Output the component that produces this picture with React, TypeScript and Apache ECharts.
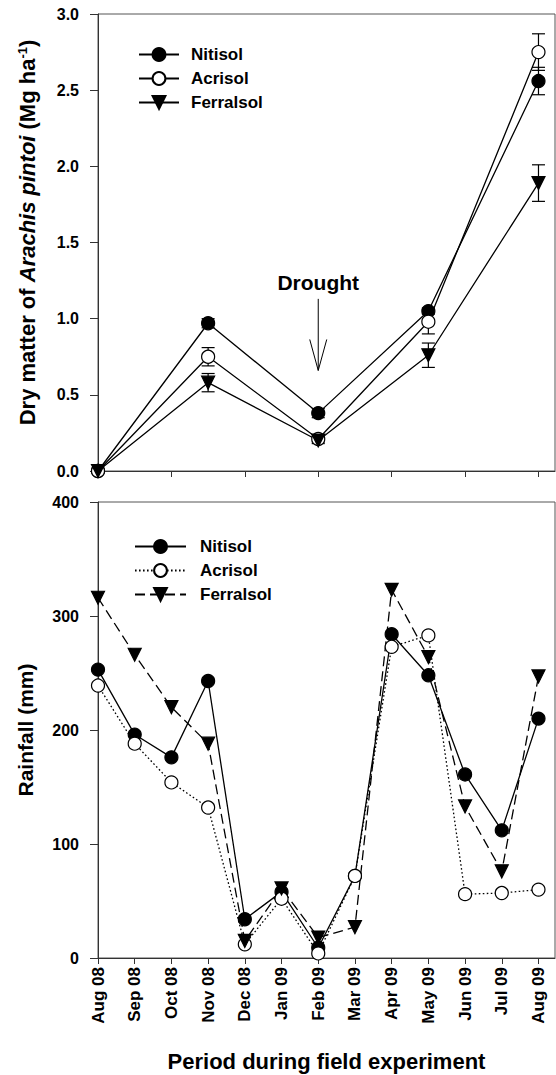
import React, { useEffect, useRef } from "react";
import * as echarts from "echarts";

const FONT = "Liberation Sans, Arial, Helvetica, sans-serif";

const soils = ["Nitisol", "Acrisol", "Ferralsol"];
const monthLabels = [
  "Aug 08", "Sep 08", "Oct 08", "Nov 08", "Dec 08", "Jan 09", "Feb 09",
  "Mar 09", "Apr 09", "May 09", "Jun 09", "Jul 09", "Aug 09",
];
const monthIndex = [0, 1, 2, 3, 4, 5, 6, 7, 8, 9, 10, 11, 12];
const topTickMonths = [0, 2, 4, 6, 8, 10, 12];

// Dry matter of Arachis pintoi (Mg ha-1), sampled at these months
const samplingMonths = [0, 3, 6, 9, 12];
const dmNitisol = [0, 0.97, 0.38, 1.05, 2.56];
const dmAcrisol = [0, 0.75, 0.21, 0.98, 2.75];
const dmFerralsol = [0, 0.58, 0.2, 0.76, 1.89];
const seNitisol = [0, 0.03, 0.03, 0.02, 0.09];
const seAcrisol = [0, 0.06, 0.02, 0.08, 0.12];
const seFerralsol = [0, 0.06, 0.02, 0.08, 0.12];

// Rainfall (mm) per month
const rainNitisol = [253, 196, 176, 243, 34, 58, 9, 72, 284, 248, 161, 112, 210];
const rainAcrisol = [239, 188, 154, 132, 12, 52, 4, 72, 273, 283, 56, 57, 60];
const rainFerralsol = [316, 266, 220, 188, 15, 61, 18, 27, 323, 264, 133, 76, 247];

// Drought annotation (month index, label value, arrow top, arrow tip)
const droughtMonth = 6;
const droughtLabelValue = 1.24;
const droughtArrowTop = 1.13;
const droughtArrowTip = 0.66;

const dmValues = [dmNitisol, dmAcrisol, dmFerralsol];
const seValues = [seNitisol, seAcrisol, seFerralsol];
const rainValues = [rainNitisol, rainAcrisol, rainFerralsol];

const symbols = ["circle", "circle", "triangle"];
const rotates = [0, 0, 180];
const fills = ["#000", "#fff", "#000"];
const rainLineTypes: any[] = ["solid", [1.6, 2.4], [10, 5]];

const AXIS_COLOR = "#333";
const FRAME_COLOR = "#555";
const X_MAX = 12.45;

export default function App() {
  const ref = useRef<HTMLDivElement>(null);

  useEffect(() => {
    if (!ref.current) return;
    const chart = echarts.init(ref.current, undefined, { renderer: "svg" });

    const axisLine = { show: true, lineStyle: { color: AXIS_COLOR, width: 1 } };
    const tickLabelY = { fontFamily: FONT, fontWeight: "bold" as const, fontSize: 16, color: "#000", margin: 19 };

    const topLines = soils.map((s, i) => ({
      name: s,
      type: "line",
      xAxisIndex: 0,
      yAxisIndex: 0,
      z: 3,
      data: samplingMonths.map((m, j) => [m, dmValues[i][j]]),
      symbol: symbols[i],
      symbolRotate: rotates[i],
      symbolSize: 13,
      lineStyle: { color: "#000", width: 1.3, type: "solid" },
      itemStyle: { color: fills[i], borderColor: "#000", borderWidth: 1.2 },
      emphasis: { disabled: true },
    }));

    const errorBars = soils.map((s, i) => ({
      name: "err-" + s,
      type: "custom",
      xAxisIndex: 0,
      yAxisIndex: 0,
      z: 2,
      data: samplingMonths.map((m, j) => [m, dmValues[i][j], seValues[i][j]]),
      renderItem: (_p: any, api: any) => {
        const x = api.value(0);
        const y = api.value(1);
        const e = api.value(2);
        if (!e) return { type: "group", children: [] };
        const hi = api.coord([x, y + e]);
        const lo = api.coord([x, y - e]);
        const w = 6.5;
        const st = { stroke: "#000", lineWidth: 1.2 };
        return {
          type: "group",
          children: [
            { type: "line", shape: { x1: hi[0], y1: hi[1], x2: lo[0], y2: lo[1] }, style: st },
            { type: "line", shape: { x1: hi[0] - w, y1: hi[1], x2: hi[0] + w, y2: hi[1] }, style: st },
            { type: "line", shape: { x1: lo[0] - w, y1: lo[1], x2: lo[0] + w, y2: lo[1] }, style: st },
          ],
        };
      },
    }));

    const drought = {
      name: "drought",
      type: "custom",
      xAxisIndex: 0,
      yAxisIndex: 0,
      z: 4,
      clip: false,
      data: [[droughtMonth, droughtLabelValue, droughtArrowTop, droughtArrowTip]],
      renderItem: (_p: any, api: any) => {
        const x = api.value(0);
        const t = api.coord([x, api.value(1)]);
        const a = api.coord([x, api.value(2)]);
        const b = api.coord([x, api.value(3)]);
        const st = { stroke: "#000", lineWidth: 1, fill: "none" };
        return {
          type: "group",
          children: [
            {
              type: "text",
              x: t[0],
              y: t[1],
              style: {
                text: "Drought",
                fontFamily: FONT,
                fontWeight: "bold",
                fontSize: 21,
                fill: "#000",
                align: "center",
                verticalAlign: "middle",
              },
            },
            { type: "line", shape: { x1: a[0], y1: a[1], x2: b[0], y2: b[1] }, style: st },
            {
              type: "polyline",
              shape: { points: [[b[0] - 8.5, b[1] - 31], [b[0], b[1]], [b[0] + 8.5, b[1] - 31]] },
              style: st,
            },
          ],
        };
      },
    };

    const bottomLines = soils.map((s, i) => ({
      name: s + " rainfall",
      type: "line",
      xAxisIndex: 1,
      yAxisIndex: 1,
      z: 3,
      data: monthIndex.map((m, j) => [m, rainValues[i][j]]),
      symbol: symbols[i],
      symbolRotate: rotates[i],
      symbolSize: 13,
      lineStyle: { color: "#000", width: 1.3, type: rainLineTypes[i] },
      itemStyle: { color: fills[i], borderColor: "#000", borderWidth: 1.2 },
      emphasis: { disabled: true },
    }));

    const legendText = {
      fontFamily: FONT,
      fontWeight: "bold" as const,
      fontSize: 17,
      color: "#000",
    };

    chart.setOption({
      animation: false,
      backgroundColor: "#fff",
      grid: [
        { left: 98, top: 14, right: 1, height: 457, show: true, borderColor: FRAME_COLOR, borderWidth: 1, backgroundColor: "transparent" },
        { left: 98, top: 502, right: 1, height: 456, show: true, borderColor: FRAME_COLOR, borderWidth: 1, backgroundColor: "transparent" },
      ],
      legend: [
        {
          data: soils,
          orient: "vertical",
          left: 138,
          top: 46,
          padding: 0,
          itemWidth: 40,
          itemHeight: 16,
          itemGap: 7,
          selectedMode: false,
          textStyle: { ...legendText, padding: [0, 0, 0, 7] },
        },
        {
          data: soils.map((s) => s + " rainfall"),
          orient: "vertical",
          left: 134,
          top: 538,
          padding: 0,
          itemWidth: 51,
          itemHeight: 16,
          itemGap: 7,
          selectedMode: false,
          formatter: (n: string) => n.replace(" rainfall", ""),
          textStyle: { ...legendText, padding: [0, 0, 0, 9] },
        },
      ],
      xAxis: [
        {
          type: "value",
          gridIndex: 0,
          min: 0,
          max: X_MAX,
          interval: 2,
          axisLine,
          axisTick: { show: true, length: 6, customValues: topTickMonths, lineStyle: { color: AXIS_COLOR } },
          axisLabel: { show: false },
          splitLine: { show: false },
        },
        {
          type: "value",
          gridIndex: 1,
          min: 0,
          max: X_MAX,
          interval: 1,
          axisLine,
          axisTick: { show: true, length: 6, customValues: monthIndex, lineStyle: { color: AXIS_COLOR } },
          axisLabel: {
            customValues: monthIndex,
            rotate: 90,
            margin: 9,
            fontFamily: FONT,
            fontWeight: "bold",
            fontSize: 17,
            color: "#000",
            formatter: (v: number) => monthLabels[Math.round(v)] ?? "",
          },
          splitLine: { show: false },
          name: "Period during field experiment",
          nameLocation: "middle",
          nameGap: 92,
          nameTextStyle: { fontFamily: FONT, fontWeight: "bold", fontSize: 22, color: "#000" },
        },
      ],
      yAxis: [
        {
          type: "value",
          gridIndex: 0,
          min: 0,
          max: 3,
          interval: 0.5,
          axisLine,
          axisTick: { show: true, length: 8, lineStyle: { color: AXIS_COLOR } },
          axisLabel: { ...tickLabelY, formatter: (v: number) => v.toFixed(1) },
          splitLine: { show: false },
          name: "Dry matter of {i|Arachis pintoi} (Mg ha{s|-1})",
          nameLocation: "middle",
          nameGap: 60,
          nameTextStyle: {
            fontFamily: FONT,
            fontWeight: "bold",
            fontSize: 22,
            color: "#000",
            padding: [0, 0, 0, 20],
            rich: {
              i: { fontFamily: FONT, fontWeight: "bold", fontStyle: "italic", fontSize: 22, color: "#000" },
              s: { fontFamily: FONT, fontWeight: "bold", fontSize: 13, color: "#000", verticalAlign: "top" },
            },
          },
        },
        {
          type: "value",
          gridIndex: 1,
          min: 0,
          max: 400,
          interval: 100,
          axisLine,
          axisTick: { show: true, length: 8, lineStyle: { color: AXIS_COLOR } },
          axisLabel: { ...tickLabelY },
          splitLine: { show: false },
          name: "Rainfall (mm)",
          nameLocation: "middle",
          nameGap: 62,
          nameTextStyle: { fontFamily: FONT, fontWeight: "bold", fontSize: 21, color: "#000" },
        },
      ],
      series: [...errorBars, ...topLines, drought, ...bottomLines],
    });

    return () => chart.dispose();
  }, []);

  return (
    <div
      ref={ref}
      style={{ position: "absolute", left: 0, top: 0, width: 556, height: 1075, background: "#fff" }}
    />
  );
}
